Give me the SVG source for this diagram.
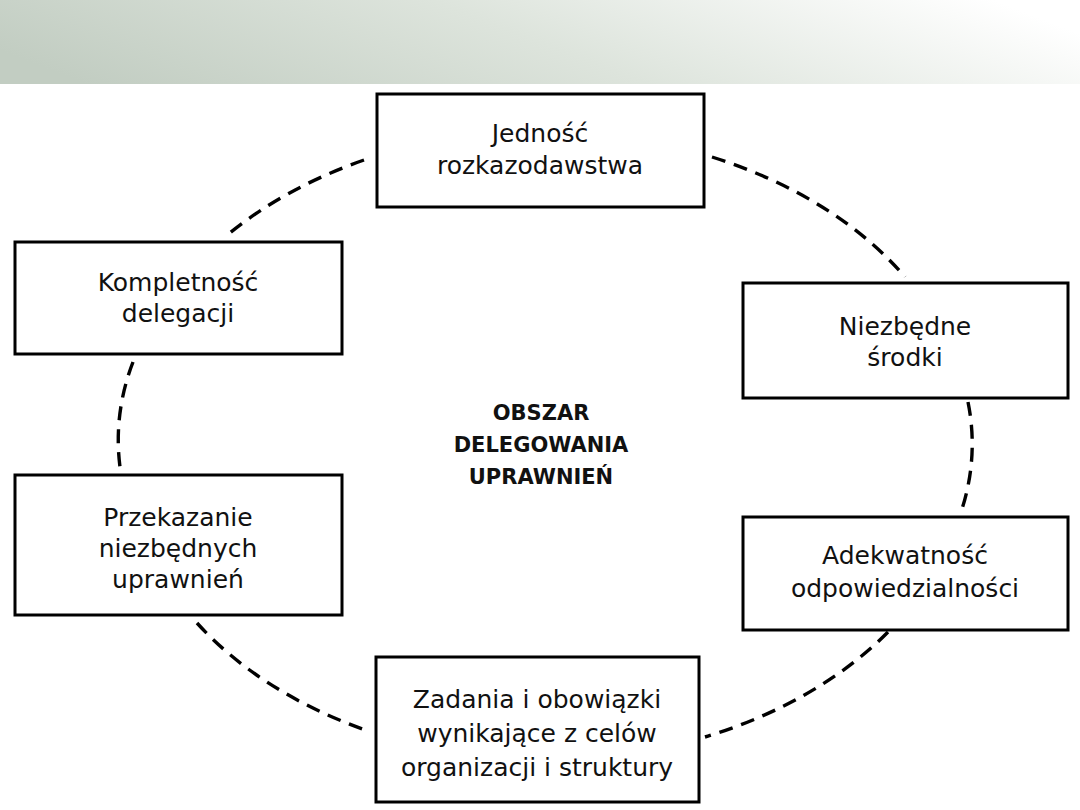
<svg xmlns="http://www.w3.org/2000/svg" width="1080" height="810" viewBox="0 0 1080 810">
<defs>
<linearGradient id="hdr" x1="0" y1="0.6" x2="1" y2="0.4">
<stop offset="0" stop-color="#c2cdc2"/>
<stop offset="0.5" stop-color="#dde4dc"/>
<stop offset="1" stop-color="#ffffff"/>
</linearGradient>
<style>
.box{fill:#ffffff;stroke:#000000;stroke-width:3}
.t{font-family:"DejaVu Sans","Liberation Sans",sans-serif;font-size:25px;fill:#111111;text-anchor:middle}
.c{font-family:"DejaVu Sans","Liberation Sans",sans-serif;font-size:21px;font-weight:bold;fill:#111111;text-anchor:middle}
.d{fill:none;stroke:#000000;stroke-width:3.4;stroke-dasharray:14 9}
</style>
</defs>
<rect x="0" y="0" width="1080" height="810" fill="#ffffff"/>
<rect id="header" x="0" y="0" width="1080" height="84" fill="url(#hdr)"/>

<g id="connectors">
<path class="d" d="M364,160 A430,300 0 0 0 225,237"/>
<path class="d" d="M712,157 A430,300 0 0 1 905,277"/>
<path class="d" d="M133,362 A430,300 0 0 0 120,467"/>
<path class="d" d="M968,402 A430,300 0 0 1 960,515"/>
<path class="d" d="M197,623 A430,300 0 0 0 368,731"/>
<path class="d" d="M888,632 A430,300 0 0 1 705,737"/>
</g>

<g id="node-jednosc">
<rect class="box" x="377" y="94" width="327" height="113"/>
<text class="t" x="540" y="142">Jedność</text>
<text class="t" x="540" y="174">rozkazodawstwa</text>
</g>

<g id="node-kompletnosc">
<rect class="box" x="15" y="242" width="327" height="112"/>
<text class="t" x="178" y="291">Kompletność</text>
<text class="t" x="178" y="322">delegacji</text>
</g>

<g id="node-srodki">
<rect class="box" x="743" y="283" width="325" height="115"/>
<text class="t" x="905" y="335">Niezbędne</text>
<text class="t" x="905" y="366">środki</text>
</g>

<g id="node-przekazanie">
<rect class="box" x="15" y="475" width="327" height="140"/>
<text class="t" x="178" y="526">Przekazanie</text>
<text class="t" x="178" y="557">niezbędnych</text>
<text class="t" x="178" y="588">uprawnień</text>
</g>

<g id="node-adekwatnosc">
<rect class="box" x="743" y="517" width="325" height="113"/>
<text class="t" x="905" y="564">Adekwatność</text>
<text class="t" x="905" y="597">odpowiedzialności</text>
</g>

<g id="node-zadania">
<rect class="box" x="376" y="657" width="323" height="145"/>
<text class="t" x="537" y="708">Zadania i obowiązki</text>
<text class="t" x="537" y="742">wynikające z celów</text>
<text class="t" x="537" y="776">organizacji i struktury</text>
</g>

<g id="center-label">
<text class="c" x="541" y="420">OBSZAR</text>
<text class="c" x="541" y="452">DELEGOWANIA</text>
<text class="c" x="541" y="484">UPRAWNIEŃ</text>
</g>
</svg>
